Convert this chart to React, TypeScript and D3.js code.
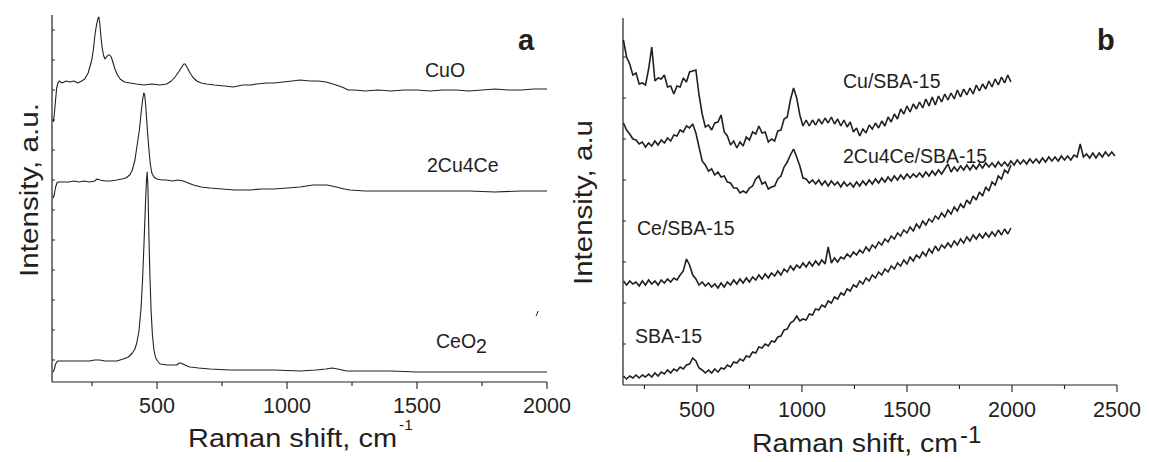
import React from "react";
import * as d3 from "d3";

// ---------- Panel a data: [Raman shift cm-1, intensity a.u.] ----------
const cuO: [number, number][] = [
  [101,260],[105,268],[109,280],[114,294],[119,299],[124,301],[135,299],[150,301],[165,300],[180,301],[195,299],[210,301],
  [222,303],[235,309],[249,322],[256,334],[262,349],[268,358],[273,364],[276,365],[280,358],[284,346],[289,334],[295,326],
  [300,323],[306,325],[312,327],[318,327],[324,325],[330,320],[338,313],[348,307],[358,303],[375,300],[396,299],[420,298],
  [450,297],[480,298],[510,297],[537,298],[555,301],[569,305],[583,310],[595,315],[603,318],[608,318],[615,315],[627,309],
  [640,304],[653,301],[670,299],[691,298],[720,297],[760,296],[793,295],[830,297],[860,297],[883,298],[920,299],[950,299],
  [985,300],[1020,301],[1050,302],[1088,301],[1120,301],[1150,300],[1177,298],[1200,296],[1220,294],[1235,292],[1260,292],
  [1300,291],[1350,292],[1400,291],[1450,292],[1500,292],[1550,291],[1600,292],[1650,292],[1700,291],[1750,292],[1800,293],
  [1850,292],[1900,292],[1950,293],[2000,293]
];
const cu2Ce4: [number, number][] = [
  [101,184],[105,188],[110,195],[115,199],[120,200],[140,200],[160,200],[180,201],[200,200],[220,201],[240,200],[260,201],
  [270,203],[280,202],[300,201],[320,201],[345,202],[365,203],[380,204],[395,207],[405,212],[415,222],[423,236],[432,252],
  [440,272],[445,283],[449,289],[452,288],[456,278],[460,263],[464,248],[469,232],[474,218],[480,209],[488,205],[499,203],
  [520,202],[537,202],[560,201],[580,202],[601,201],[620,199],[640,197],[670,195],[704,194],[750,193],[800,192],[858,192],
  [900,193],[950,193],[1000,194],[1050,195],[1100,197],[1153,197],[1190,195],[1220,193],[1242,192],[1300,191],[1400,191],
  [1500,191],[1600,191],[1700,191],[1800,190],[1900,191],[2000,191]
];
const ceO2: [number, number][] = [
  [101,10],[105,13],[110,18],[115,20],[120,21],[150,21],[180,21],[210,21],[240,21],[260,22],[280,22],[300,21],[345,21],
  [370,23],[390,25],[405,29],[415,33],[422,39],[430,50],[438,72],[444,100],[450,139],[455,175],[459,200],[462,210],[465,195],
  [468,155],[472,112],[477,72],[482,48],[488,32],[495,24],[505,20],[512,18],[540,17],[560,17],[576,17],[585,19],[591,19],
  [600,18],[615,16],[627,15],[660,14],[704,13],[780,12],[858,12],[950,12],[1050,11],[1110,12],[1150,13],[1172,14],[1195,13],
  [1230,11],[1300,11],[1400,11],[1500,10],[1600,10],[1700,10],[1800,10],[1900,10],[2000,10]
];
const artifactA: [number, number][] = [[1958,66],[1966,71]];

// ---------- Panel b data: sampled from 150 cm-1 every 15 cm-1 ----------
const B_START = 150;
const B_STEP = 15;
const cuSBA: number[] = [
  345,328,321,310,312,301,302,300,316,338,304,307,306,310,298,299,291,299,298,307,303,313,314,315,290,271,258,260,255,262,
  263,270,253,249,240,244,237,243,239,248,245,253,251,259,252,253,243,246,244,254,255,266,268,285,297,287,270,259,265,259,
  265,260,266,261,267,262,268,261,266,259,265,258,263,253,257,249,256,252,260,256,262,257,264,259,268,263,271,266,276,271,
  279,273,281,276,283,277,286,279,288,280,289,283,291,285,292,286,295,288,296,290,297,291,300,294,301,296,304,298,306,300,
  308,302,310,303
];
const cu2Ce4SBA: number[] = [
  262,255,251,246,245,241,243,238,242,239,244,240,245,242,247,244,250,249,255,253,259,257,261,252,238,224,220,214,216,210,
  213,208,209,203,202,197,197,192,194,192,197,199,206,209,201,203,196,198,199,206,209,218,223,230,236,228,219,207,206,202,
  205,201,205,200,204,199,204,200,203,198,203,199,202,198,203,199,204,200,205,201,206,202,207,203,208,204,209,205,210,206,
  211,207,211,208,212,208,213,209,214,210,215,211,216,221,213,218,214,219,215,220,215,220,216,221,217,222,218,222,218,223,
  219,223,219,224,220,225,221,225,221,226,222,226,222,227,223,228,224,228,224,229,225,229,225,230,228,241,228,231,227,232,
  227,232,228,233,229,233,229
];
const ceSBA: number[] = [
  104,100,104,101,103,99,104,100,105,101,104,100,105,102,106,103,107,105,110,114,126,120,110,106,100,103,99,102,98,101,
  97,102,98,103,100,105,101,106,102,107,103,108,105,110,106,111,107,112,109,114,110,116,113,119,115,120,117,122,118,123,
  119,124,120,125,121,138,122,127,123,128,126,131,128,133,130,135,132,138,134,140,137,143,140,146,143,149,146,152,149,155,
  152,158,154,161,157,164,160,166,163,169,166,172,168,175,171,178,174,181,177,185,181,189,185,193,189,198,194,203,200,209,
  206,215,212,220
];
const sba15: number[] = [
  9,6,9,7,10,7,10,8,11,8,12,9,13,11,15,12,16,14,18,16,20,21,27,24,17,15,12,15,12,16,
  13,17,16,20,18,23,22,26,24,29,28,33,32,38,37,41,39,44,43,48,49,55,56,62,64,69,64,66,65,71,
  70,76,75,80,78,84,82,88,86,92,90,96,94,100,98,104,101,107,104,110,107,113,110,116,113,119,116,122,119,125,
  121,128,124,130,127,133,129,136,132,139,134,140,137,142,138,144,140,146,142,148,144,150,146,151,147,152,148,153,149,155,
  150,156,151,157
];

// ---------- Axes ticks ----------
const xMajorA = [500, 1000, 1500, 2000];
const xMinorA = [250, 750, 1250, 1750];
const yTicksA = [22, 52, 82, 112, 142, 172, 202, 232, 262, 292, 322, 352];
const xMajorB = [500, 1000, 1500, 2000, 2500];
const xMinorB = [250, 750, 1250, 1750, 2250];
const yTicksB = [41, 82, 123, 164, 205, 246, 287, 328];

const FONT = "'Liberation Sans', Arial, Helvetica, sans-serif";
const INK = "#231f20";

const toPairs = (arr: number[]): [number, number][] => arr.map((v, i) => [B_START + i * B_STEP, v]);

export default function App() {
  const xa = d3.scaleLinear().domain([96, 2000]).range([52, 547]);
  const ya = d3.scaleLinear().domain([0, 367]).range([382, 15]);
  const xb = d3.scaleLinear().domain([148, 2500]).range([623, 1117]);
  const yb = d3.scaleLinear().domain([0, 367]).range([385, 18]);

  const lineA = d3.line<[number, number]>().x(d => xa(d[0])).y(d => ya(d[1]));
  const lineB = d3.line<[number, number]>().x(d => xb(d[0])).y(d => yb(d[1]));

  const seriesA = [cuO, cu2Ce4, ceO2];
  const seriesB = [cuSBA, cu2Ce4SBA, ceSBA, sba15].map(toPairs);

  return (
    <svg width={1149} height={462} style={{ position: "absolute", left: 0, top: 0, background: "#fff" }}
      fontFamily={FONT}>
      <rect x={0} y={0} width={1149} height={462} fill="#fff" />
      {/* Panel a */}
      {seriesA.map((s, i) => (
        <path key={"a" + i} d={lineA(s) || ""} fill="none" stroke={INK} strokeWidth={1.1} strokeLinejoin="round" />
      ))}
      <path d={lineA(artifactA) || ""} fill="none" stroke={INK} strokeWidth={1} />
      <line x1={xa(96)} x2={xa(2000)} y1={ya(0)} y2={ya(0)} stroke={INK} strokeWidth={1.2} />
      <line x1={xa(96)} x2={xa(96)} y1={ya(0)} y2={ya(367)} stroke={INK} strokeWidth={1.2} />
      {xMajorA.map(t => (
        <g key={"xa" + t}>
          <line x1={xa(t)} x2={xa(t)} y1={ya(0)} y2={ya(0) + 7} stroke={INK} strokeWidth={1.1} />
          <text x={xa(t)} y={413} textAnchor="middle" fontSize={21.5} fill={INK}>{t}</text>
        </g>
      ))}
      {xMinorA.map(t => (
        <line key={"xma" + t} x1={xa(t)} x2={xa(t)} y1={ya(0)} y2={ya(0) + 4} stroke={INK} strokeWidth={1.1} />
      ))}
      {yTicksA.map(t => (
        <line key={"ya" + t} x1={xa(96)} x2={xa(96) + 3} y1={ya(t)} y2={ya(t)} stroke={INK} strokeWidth={1} />
      ))}
      <text x={188} y={447} fontSize={25.5} textLength={209} lengthAdjust="spacingAndGlyphs" fill={INK}>Raman shift, cm</text>
      <text x={399} y={430} fontSize={15.5} fill={INK}>-1</text>
      <text transform="translate(38,277) rotate(-90)" fontSize={25.5} textLength={174} lengthAdjust="spacingAndGlyphs" fill={INK}>Intensity, a.u.</text>
      <text x={425} y={77} fontSize={19.5} fill={INK}>CuO</text>
      <text x={427} y={172} fontSize={19.5} fill={INK}>2Cu4Ce</text>
      <text x={436} y={348} fontSize={19.5} fill={INK}>CeO<tspan dy={5}>2</tspan></text>
      <text x={518} y={50} fontSize={29} fontWeight="bold" fill={INK}>a</text>

      {/* Panel b */}
      {seriesB.map((s, i) => (
        <path key={"b" + i} d={lineB(s) || ""} fill="none" stroke={INK} strokeWidth={1.6} strokeLinejoin="miter" strokeMiterlimit={2} />
      ))}
      <line x1={xb(148)} x2={xb(2500)} y1={yb(0)} y2={yb(0)} stroke={INK} strokeWidth={1.2} />
      <line x1={xb(148)} x2={xb(148)} y1={yb(0)} y2={yb(367)} stroke={INK} strokeWidth={1.2} />
      {xMajorB.map(t => (
        <g key={"xb" + t}>
          <line x1={xb(t)} x2={xb(t)} y1={yb(0)} y2={yb(0) + 7} stroke={INK} strokeWidth={1.1} />
          <text x={xb(t)} y={417} textAnchor="middle" fontSize={21.5} fill={INK}>{t}</text>
        </g>
      ))}
      {xMinorB.map(t => (
        <line key={"xmb" + t} x1={xb(t)} x2={xb(t)} y1={yb(0)} y2={yb(0) + 4} stroke={INK} strokeWidth={1.1} />
      ))}
      {yTicksB.map(t => (
        <line key={"yb" + t} x1={xb(148)} x2={xb(148) + 3} y1={yb(t)} y2={yb(t)} stroke={INK} strokeWidth={1} />
      ))}
      <text x={752} y={452} fontSize={25.5} textLength={206} lengthAdjust="spacingAndGlyphs" fill={INK}>Raman shift, cm</text>
      <text x={960} y={443} fontSize={24} fill={INK}>-1</text>
      <text transform="translate(592,285) rotate(-90)" fontSize={25.5} textLength={165} lengthAdjust="spacingAndGlyphs" fill={INK}>Intensity, a.u</text>
      <text x={843} y={88} fontSize={19.5} fill={INK}>Cu/SBA-15</text>
      <text x={843} y={163} fontSize={19.5} fill={INK}>2Cu4Ce/SBA-15</text>
      <text x={637} y={235} fontSize={19.5} fill={INK}>Ce/SBA-15</text>
      <text x={635} y={343} fontSize={19.5} fill={INK}>SBA-15</text>
      <text x={1097} y={50} fontSize={29} fontWeight="bold" fill={INK}>b</text>
    </svg>
  );
}
